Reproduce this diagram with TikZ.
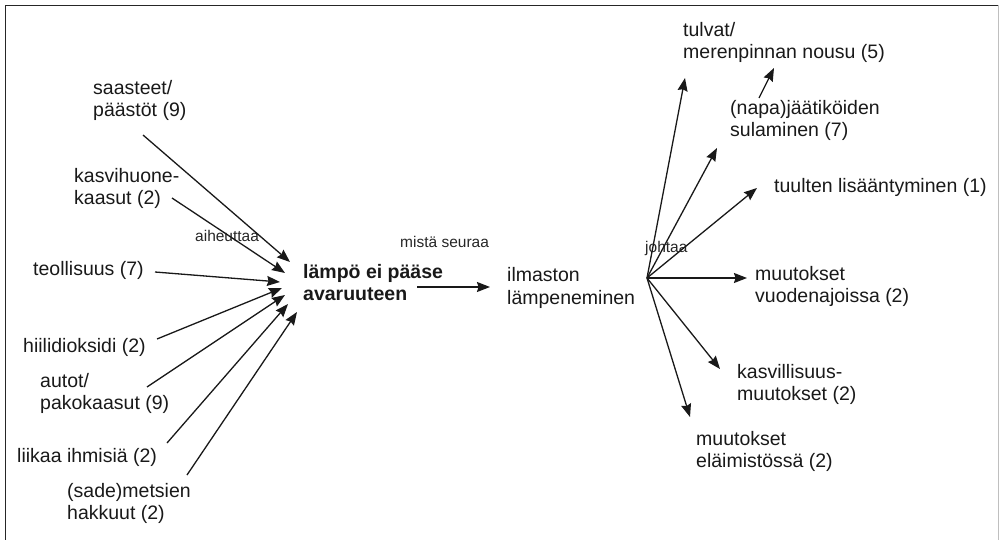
\documentclass[tikz,border=0pt]{standalone}
\usepackage{fontspec}
\setmainfont{Liberation Sans}
\usetikzlibrary{arrows.meta}
\newcommand{\twoline}[2]{\vtop{\hbox{#1}\hbox{#2}}}
\begin{document}
\begin{tikzpicture}[x=1pt,y=-1pt,
  lbl/.style={anchor=base west,inner sep=0pt,text=black!90,font=\fontsize{19.5}{22}\selectfont},
  rel/.style={anchor=base west,inner sep=0pt,text=black!85,font=\fontsize{15.5}{18}\selectfont},
  arr/.style={line width=1.3pt,draw=black!90,-{Stealth[length=13pt,width=10pt,inset=1.5pt]}}]
\useasboundingbox (0,0) rectangle (999,540);
% frame
\draw[line width=1.4pt,draw=black!85] (5.5,540) -- (5.5,5.5) -- (998,5.5);
\draw[line width=1pt,draw=black!25] (998,5.5) -- (998,540);
% left labels
\node[lbl] (saa) at (93,95) {\twoline{saasteet/}{päästöt (9)}};
\node[lbl] (kas) at (74,183) {\twoline{kasvihuone-}{kaasut (2)}};
\node[lbl] (teo) at (33,276) {teollisuus (7)};
\node[lbl] (hii) at (23,352) {hiilidioksidi (2)};
\node[lbl] (aut) at (40,387) {\twoline{autot/}{pakokaasut (9)}};
\node[lbl] (lii) at (17,462) {liikaa ihmisiä (2)};
\node[lbl] (sad) at (67,497) {\twoline{(sade)metsien}{hakkuut (2)}};
% centre
\node[lbl,font=\fontsize{19.5}{22}\bfseries] (lam) at (303,279) {\twoline{lämpö ei pääse}{avaruuteen}};
\node[lbl] (ilm) at (507,282) {\twoline{ilmaston}{lämpeneminen}};
% right labels
\node[lbl] (tul) at (683,37) {\twoline{tulvat/}{merenpinnan nousu (5)}};
\node[lbl] (nap) at (730,115) {\twoline{(napa)jäätiköiden}{sulaminen (7)}};
\node[lbl] (tuu) at (774,193) {tuulten lisääntyminen (1)};
\node[lbl] (vuo) at (755,280) {\twoline{muutokset}{vuodenajoissa (2)}};
\node[lbl] (kav) at (737,378) {\twoline{kasvillisuus-}{muutokset (2)}};
\node[lbl] (ela) at (696,445) {\twoline{muutokset}{eläimistössä (2)}};
% relation labels
\node[rel] (aih) at (195,242) {aiheuttaa};
\node[rel] (mis) at (400,248) {mistä seuraa};
\node[rel] (joh) at (645,253) {johtaa};
% connector coordinates
\coordinate (saaS) at (143,135); \coordinate (saaT) at (290,262);
\coordinate (kasS) at (172,198); \coordinate (kasT) at (285,273);
\coordinate (teoS) at (155,272); \coordinate (teoT) at (280,282);
\coordinate (hiiS) at (157,339); \coordinate (hiiT) at (282,288);
\coordinate (autS) at (147,387); \coordinate (autT) at (285,295);
\coordinate (liiS) at (167,443); \coordinate (liiT) at (288,304);
\coordinate (sadS) at (187,475); \coordinate (sadT) at (297,312);
\coordinate (lamS) at (417,287); \coordinate (ilmT) at (490,287);
\coordinate (hub) at (647,278);
\coordinate (tulT) at (685,78);
\coordinate (napT) at (717,148);
\coordinate (tuuT) at (757,188);
\coordinate (vuoT) at (747,278);
\coordinate (kavT) at (720,369);
\coordinate (elaT) at (690,417);
\coordinate (napS) at (759,98); \coordinate (tulT2) at (774,68);
% arrows
\draw[arr] (saaS) -- (saaT);
\draw[arr] (kasS) -- (kasT);
\draw[arr] (teoS) -- (teoT);
\draw[arr] (hiiS) -- (hiiT);
\draw[arr] (autS) -- (autT);
\draw[arr] (liiS) -- (liiT);
\draw[arr] (sadS) -- (sadT);
\draw[arr] (lamS) -- (ilmT);
\draw[arr] (hub) -- (tulT);
\draw[arr] (hub) -- (napT);
\draw[arr] (hub) -- (tuuT);
\draw[arr] (hub) -- (vuoT);
\draw[arr] (hub) -- (kavT);
\draw[arr] (hub) -- (elaT);
\draw[arr] (napS) -- (tulT2);
\end{tikzpicture}
\end{document}
